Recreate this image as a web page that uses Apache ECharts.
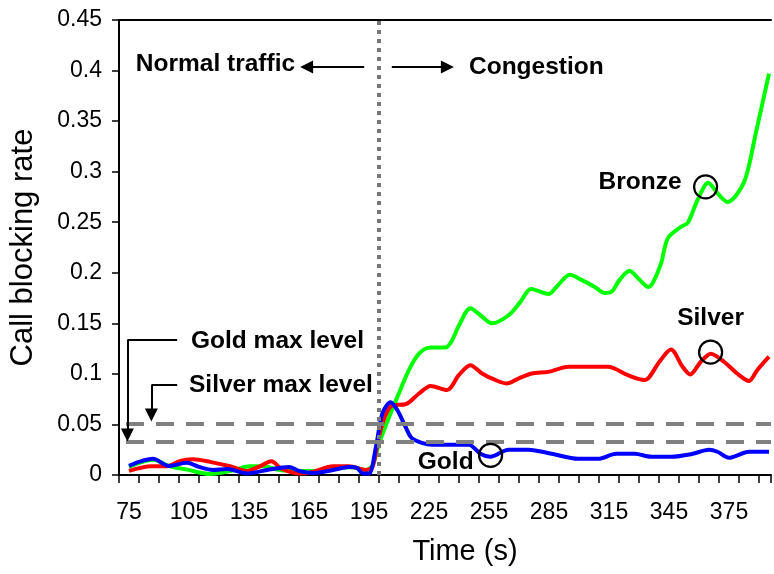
<!DOCTYPE html>
<html><head><meta charset="utf-8">
<script src="https://cdn.jsdelivr.net/npm/echarts@6/dist/echarts.min.js"></script>
<style>html,body{margin:0;padding:0;background:#fff}#c{width:774px;height:574px}</style>
</head><body><div id="c"></div>
<script>
// ---- data ----
const goldTime = [75,80,87,95,104,110,117,124,134,144,155,160,167,177,185,189,192,195,198.5,201.7,205.8,209.2,213.3,216.7,226.6,244.9,250.7,255.6,264.8,274.7,286.3,299.6,309.5,318.6,327.8,336.1,346,356,365.1,369.2,375,385,395];
const goldRate = [0.009,0.013,0.016,0.009,0.012,0.008,0.005,0.006,0.0015,0.005,0.008,0.004,0.002,0.005,0.008,0.007,0.0015,0.0015,0.028,0.061,0.072,0.064,0.0475,0.036,0.030,0.030,0.021,0.018,0.025,0.025,0.021,0.016,0.016,0.021,0.021,0.018,0.018,0.0205,0.025,0.023,0.017,0.023,0.023];

const silverTime = [75,86,94,100.6,107,115.5,125.5,133.8,140.4,146.2,151.2,160.3,167,177,185,193.5,196.7,200,203,206.7,213.3,220,225.8,234,240,245.7,251.5,258.1,263.9,269.7,276.4,284.7,294.6,314.5,324.5,332.7,335.2,340.2,346,351.8,355.6,360.9,365.9,372.5,379.1,385,389.1,395];
const silverRate = [0.004,0.0086,0.0086,0.014,0.0155,0.013,0.0086,0.004,0.0086,0.0136,0.0063,0.0014,0.003,0.0086,0.0086,0.005,0.008,0.038,0.058,0.069,0.07,0.0806,0.088,0.084,0.099,0.1086,0.1004,0.094,0.0905,0.0954,0.1004,0.102,0.107,0.107,0.0987,0.094,0.097,0.112,0.124,0.107,0.0994,0.112,0.120,0.112,0.1004,0.093,0.1037,0.117];

const bronzeTime = [75,87,95.6,104,115.5,127,135.5,142,150.5,160.3,168.6,177,186.8,193.5,196.9,200,205,210,215,220,225.8,233.2,236.5,240,245.7,250.7,256.5,264.8,270.6,276,284.7,289.6,295.4,301.2,307.9,312.8,316.2,320.3,325.3,330.3,334.7,336.9,341,344.4,351,354.4,359.3,364.6,369.3,374.3,382.6,388.4,395];
const bronzeRate = [0.008,0.015,0.0086,0.0053,0.001,0.0046,0.0086,0.0086,0.005,0.004,0.004,0.0076,0.0076,0.005,0.01,0.031,0.057,0.081,0.104,0.12,0.126,0.126,0.133,0.148,0.165,0.158,0.15,0.158,0.171,0.184,0.179,0.188,0.198,0.193,0.186,0.18,0.181,0.193,0.202,0.193,0.186,0.19,0.209,0.234,0.2455,0.2495,0.272,0.289,0.2786,0.270,0.290,0.338,0.397];

const goldMaxLevel = 0.033;
const silverMaxLevel = 0.051;
const congestionStart = 200;
const circledPoints = [[363.3,0.285],[365.8,0.1215],[255.8,0.0195]];
const xLabelFirst = 75, xLabelStep = 30;

// annotation anchors (data units)
const notes = [
  {text:'Normal traffic', at:[78.4,0.4065]},
  {text:'Congestion', at:[245,0.4036]},
  {text:'Bronze', at:[309.8,0.2898]},
  {text:'Silver', at:[349.1,0.1553]},
  {text:'Gold', at:[219.4,0.0129]},
  {text:'Gold max level', at:[106,0.1325]},
  {text:'Silver max level', at:[105,0.089]}
];
const arrows = [
  [[192.6,0.4036],[163.8,0.4036]],
  [[206.4,0.4036],[234.2,0.4036]],
  [[99.1,0.1335],[74.2,0.1335],[74.2,0.0396]],
  [[99.1,0.089],[86.2,0.089],[86.2,0.0594]]
];

const FONT = 'Arial, "Liberation Sans", sans-serif';
const pairs = (t, v) => t.map((x, i) => [x, v[i]]);

const arrowLines = [];
arrows.forEach(pts => {
  for (let i = 0; i < pts.length - 1; i++) {
    const last = i === pts.length - 2;
    arrowLines.push([
      {coord: pts[i], symbol: 'none'},
      {coord: pts[i + 1], symbol: last ? 'triangle' : 'none', symbolSize: last ? 13 : 0}
    ]);
  }
});

const chart = echarts.init(document.getElementById('c'), null, {renderer: 'canvas'});
const axisBase = {type: 'value', min: 70, max: 396, splitLine: {show: false}};
chart.setOption({
  animation: false,
  backgroundColor: '#fff',
  grid: {left: 118, right: 0, top: 20, bottom: 99},
  xAxis: [
    Object.assign({}, axisBase, {
      position: 'bottom', interval: 5,
      axisLine: {lineStyle: {color: '#000', width: 2}},
      axisTick: {show: false},
      axisLabel: {
        formatter: v => (v >= xLabelFirst && (v - xLabelFirst) % xLabelStep === 0) ? String(v) : '',
        fontSize: 23, color: '#000', margin: 26, fontFamily: FONT
      },
      name: 'Time (s)', nameLocation: 'middle', nameGap: 62,
      nameTextStyle: {fontSize: 29, color: '#000', fontFamily: FONT, padding: [0, 0, 0, 40]}
    }),
    Object.assign({}, axisBase, {
      position: 'bottom', interval: 10,
      axisLine: {show: false},
      axisTick: {show: true, length: 8, lineStyle: {color: '#000', width: 1.5}},
      axisLabel: {show: false}
    }),
    Object.assign({}, axisBase, {
      position: 'top',
      axisLine: {lineStyle: {color: '#000', width: 2}},
      axisTick: {show: false}, axisLabel: {show: false}
    })
  ],
  yAxis: {
    type: 'value', min: 0, max: 0.45, interval: 0.05,
    axisLine: {show: true, lineStyle: {color: '#000', width: 2}},
    axisTick: {show: true, length: 7, lineStyle: {color: '#000', width: 1.5}},
    axisLabel: {fontSize: 23, color: '#000', margin: 17, fontFamily: FONT},
    splitLine: {show: false},
    name: 'Call blocking rate', nameLocation: 'middle', nameGap: 80,
    nameTextStyle: {fontSize: 31, color: '#000', fontFamily: FONT}
  },
  series: [
    {
      type: 'line', name: 'levels', data: [], silent: true, z: 1,
      markLine: {
        silent: true, animation: false, symbol: ['none', 'none'], label: {show: false},
        data: [
          [{coord: [73.5, silverMaxLevel], lineStyle: {color: '#808080', width: 4, type: [18, 12]}}, {coord: [396, silverMaxLevel]}],
          [{coord: [73.5, goldMaxLevel], lineStyle: {color: '#808080', width: 4, type: [18, 12]}}, {coord: [396, goldMaxLevel]}],
          [{coord: [congestionStart, 0], lineStyle: {color: '#777777', width: 4, type: [4, 5]}}, {coord: [congestionStart, 0.45]}]
        ]
      }
    },
    {type: 'line', name: 'Bronze', data: pairs(bronzeTime, bronzeRate), smooth: 0.3, showSymbol: false,
     lineStyle: {color: '#00FF00', width: 4}, itemStyle: {color: '#00FF00'}, z: 2},
    {type: 'line', name: 'Silver', data: pairs(silverTime, silverRate), smooth: 0.3, showSymbol: false,
     lineStyle: {color: '#FF0000', width: 4}, itemStyle: {color: '#FF0000'}, z: 3},
    {type: 'line', name: 'Gold', data: pairs(goldTime, goldRate), smooth: 0.3, showSymbol: false,
     lineStyle: {color: '#0000FF', width: 4}, itemStyle: {color: '#0000FF'}, z: 4},
    {
      type: 'line', name: 'arrows', data: [], silent: true, z: 5,
      markLine: {
        silent: true, animation: false, label: {show: false},
        lineStyle: {color: '#000', width: 2, type: 'solid', opacity: 1},
        itemStyle: {color: '#000', opacity: 1},
        data: arrowLines
      }
    },
    {type: 'scatter', name: 'marks', data: circledPoints, symbol: 'circle', symbolSize: 23, silent: true, z: 10,
     itemStyle: {color: 'rgba(0,0,0,0)', borderColor: '#000', borderWidth: 2.2, opacity: 1}}
  ]
});

chart.setOption({
  graphic: notes.map(n => {
    const p = chart.convertToPixel({gridIndex: 0}, n.at);
    return {type: 'text', x: p[0], y: p[1], silent: true, z: 20,
      style: {text: n.text, fill: '#000', font: 'bold 24.5px ' + FONT, align: 'left', verticalAlign: 'middle'}};
  })
});
</script>
</body></html>
